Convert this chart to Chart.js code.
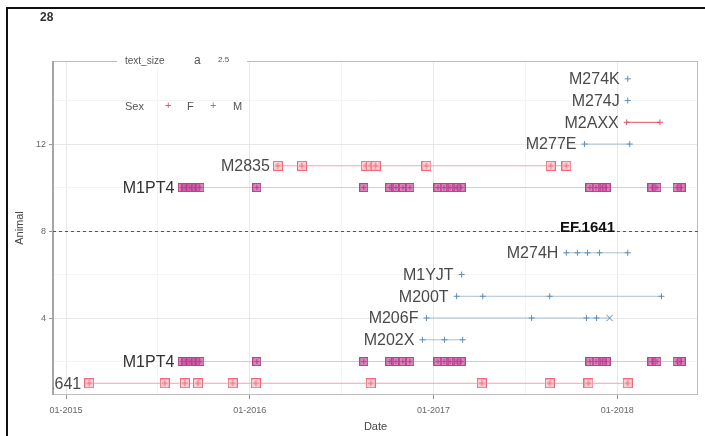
<!DOCTYPE html>
<html>
<head>
<meta charset="utf-8">
<script src="https://cdn.jsdelivr.net/npm/chart.js@4"></script>
<style>
  html, body { margin: 0; padding: 0; background: #fff; }
  #wrap { width: 705px; height: 436px; }
</style>
</head>
<body>
<div id="wrap"><canvas id="animalChart" width="705" height="436"></canvas></div>
<script>
// sightings per animal, dates
const dates641   = ['2015-02-16', '2015-07-16', '2015-08-25', '2015-09-20', '2015-11-28', '2016-01-13',
                    '2016-08-29', '2017-04-07', '2017-08-20', '2017-11-05', '2018-01-22'];
const datesM1PT4 = ['2015-08-20', '2015-08-27', '2015-09-06', '2015-09-16', '2015-09-24', '2016-01-15',
                    '2016-08-15', '2016-10-06', '2016-10-18', '2016-11-01', '2016-11-15',
                    '2017-01-10', '2017-01-22', '2017-02-03', '2017-02-15', '2017-02-25',
                    '2017-11-08', '2017-11-20', '2017-12-02', '2017-12-10',
                    '2018-03-11', '2018-03-21', '2018-04-30', '2018-05-08'];
const datesM202X = ['2016-12-10', '2017-01-23', '2017-02-28'];
const datesM206F = ['2016-12-18', '2017-07-15', '2017-11-01', '2017-11-21', '2017-12-17'];
const datesM200T = ['2017-02-16', '2017-04-09', '2017-08-20', '2018-03-30'];
const datesM1YJT = ['2017-02-26'];
const datesM274H = ['2017-09-22', '2017-10-14', '2017-11-03', '2017-11-27', '2018-01-22'];
const datesM2835 = ['2016-02-26', '2016-04-14', '2016-08-19', '2016-08-29', '2016-09-08', '2016-12-18',
                    '2017-08-22', '2017-09-22'];
const datesM277E = ['2017-10-28', '2018-01-26'];
const datesM2AXX = ['2018-01-20', '2018-03-27'];
const datesM274J = ['2018-01-22'];
const datesM274K = ['2018-01-22'];

const animals     = ['EF.1641', 'M1PT4', 'M202X', 'M206F', 'M200T', 'M1YJT', 'M274H', 'M1PT4', 'M2835', 'M277E', 'M2AXX', 'M274J', 'M274K'];
const animalRows  = [1, 2, 3, 4, 5, 6, 7, 10, 11, 12, 13, 14, 15];
const animalSex   = ['F', 'F', 'M', 'M', 'M', 'M', 'M', 'F', 'F', 'M', 'F', 'M', 'M'];
const animalDates = [dates641, datesM1PT4, datesM202X, datesM206F, datesM200T, datesM1YJT, datesM274H,
                     datesM1PT4, datesM2835, datesM277E, datesM2AXX, datesM274J, datesM274K];
const lastSeenX   = ['M206F'];   // last sighting drawn as an x

const dividerRow = 8;
const dividerLabel = 'EF.1641';
const dividerLabelDate = '2017-11-03';

const yearTicks = [2015, 2016, 2017, 2018];
const yearTickLabels = ['01-2015', '01-2016', '01-2017', '01-2018'];
const rowTicks = [4, 8, 12];
const sexLevels = ['F', 'M'];

const fontFamily = '"Liberation Sans", Arial, sans-serif';
Chart.defaults.font.family = fontFamily;

function toYear(s) {
    const [y, m, d] = s.split('-').map(Number);
    const start = Date.UTC(y, 0, 1);
    return y + (Date.UTC(y, m - 1, d) - start) / (Date.UTC(y + 1, 0, 1) - start);
}

// square with a plus inside, like the ggplot shape 12
function boxMarker(stroke, fill, size) {
    const c = document.createElement('canvas');
    c.width = size; c.height = size;
    const g = c.getContext('2d');
    g.fillStyle = fill;
    g.fillRect(0, 0, size, size);
    g.strokeStyle = stroke;
    g.lineWidth = 1;
    g.strokeRect(0.5, 0.5, size - 1, size - 1);
    g.beginPath();
    g.moveTo(size / 2, 2); g.lineTo(size / 2, size - 2);
    g.moveTo(2, size / 2); g.lineTo(size - 2, size / 2);
    g.stroke();
    return c;
}

const pinkBox = boxMarker('#ec6a7c', 'rgba(250,200,206,0.85)', 10);
const plumBox = boxMarker('#b8408f', 'rgba(204,80,160,0.7)', 9);

const femaleRed = '#e05068';
const maleBlue = '#5f8db3';

const styleByAnimal = {
    'EF.1641': { line: '#f2a3ad', marker: pinkBox },
    'M1PT4':   { line: '#d8c9d8', marker: plumBox },
    'M2835':   { line: '#f2a3ad', marker: pinkBox },
    'M2AXX':   { line: femaleRed, marker: 'cross', color: femaleRed }
};

const datasets = animals.map((name, i) => {
    const st = styleByAnimal[name] || { line: '#a8c0d4', marker: 'cross', color: maleBlue };
    const n = animalDates[i].length;
    return {
        label: name,
        data: animalDates[i].map(d => ({ x: toYear(d), y: animalRows[i] })),
        showLine: true,
        borderColor: st.line,
        borderWidth: 1,
        pointStyle: ctx => (lastSeenX.includes(name) && ctx.dataIndex === n - 1) ? 'crossRot' : st.marker,
        pointRadius: ctx => (lastSeenX.includes(name) && ctx.dataIndex === n - 1) ? 4.5 : 3,
        pointBorderColor: st.color || st.line,
        pointBackgroundColor: st.color || st.line,
        pointBorderWidth: 1
    };
});

const decor = {
    id: 'decor',
    beforeDatasetsDraw(chart) {
        const { ctx, chartArea: a, scales } = chart;
        ctx.save();
        // panel border
        ctx.strokeStyle = '#bdbdbd';
        ctx.lineWidth = 1;
        ctx.strokeRect(a.left + 0.5, a.top + 0.5, a.right - a.left - 1, a.bottom - a.top - 1);
        ctx.strokeStyle = '#a6a6a6';
        ctx.lineWidth = 2;
        ctx.beginPath(); ctx.moveTo(a.left, a.top); ctx.lineTo(a.left, a.bottom); ctx.stroke();
        // divider
        const yd = Math.round(scales.y.getPixelForValue(dividerRow)) + 0.5;
        ctx.strokeStyle = '#555';
        ctx.lineWidth = 1;
        ctx.setLineDash([3, 3]);
        ctx.beginPath(); ctx.moveTo(a.left, yd); ctx.lineTo(a.right, yd); ctx.stroke();
        ctx.restore();
    },
    afterDatasetsDraw(chart) {
        const { ctx, chartArea: a, scales } = chart;
        ctx.save();
        ctx.beginPath();
        ctx.rect(a.left, 0, chart.width, chart.height);
        ctx.clip();
        ctx.font = '16px ' + fontFamily;
        ctx.textAlign = 'right';
        ctx.textBaseline = 'middle';
        chart.data.datasets.forEach((ds, i) => {
            const pt = chart.getDatasetMeta(i).data[0];
            ctx.fillStyle = ds.label === 'M1PT4' ? '#333' : '#4a4a4a';
            ctx.fillText(ds.label, pt.x - 8, pt.y + 1);
        });
        ctx.restore();

        ctx.save();
        ctx.font = 'bold 15px ' + fontFamily;
        ctx.fillStyle = '#111';
        ctx.textAlign = 'center';
        ctx.textBaseline = 'alphabetic';
        ctx.fillText(dividerLabel, scales.x.getPixelForValue(toYear(dividerLabelDate)),
                     scales.y.getPixelForValue(dividerRow) + 1);
        ctx.restore();
    },
    afterDraw(chart) {
        const { ctx } = chart;
        ctx.save();
        // legend boxes sitting on the panel top
        ctx.fillStyle = '#fff';
        ctx.fillRect(117, 54, 130, 14);
        ctx.fillStyle = '#555';
        ctx.textBaseline = 'middle';
        ctx.textAlign = 'left';
        ctx.font = '10px ' + fontFamily;
        ctx.fillText('text_size', 125, 61);
        ctx.font = '12px ' + fontFamily;
        ctx.fillText('a', 194, 61);
        ctx.font = '8px ' + fontFamily;
        ctx.fillText('2.5', 218, 60);

        ctx.font = '11px ' + fontFamily;
        ctx.fillText('Sex', 125, 107);
        ctx.fillStyle = femaleRed;
        ctx.fillText('+', 165, 106);
        ctx.fillStyle = '#555';
        ctx.fillText(sexLevels[0], 187, 107);
        ctx.fillStyle = maleBlue;
        ctx.fillText('+', 210, 106);
        ctx.fillStyle = '#555';
        ctx.fillText(sexLevels[1], 233, 107);

        // facet number
        ctx.font = 'bold 12px ' + fontFamily;
        ctx.fillStyle = '#333';
        ctx.fillText('28', 40, 18);

        // outer frame
        ctx.fillStyle = '#111';
        ctx.fillRect(6, 7, 699, 2);
        ctx.fillRect(6, 7, 2, 429);
        ctx.restore();
    }
};

const ctx = document.getElementById('animalChart').getContext('2d');
new Chart(ctx, {
    type: 'scatter',
    data: { datasets: datasets },
    options: {
        responsive: false,
        animation: false,
        events: [],
        layout: { padding: { top: 61, right: 7, left: 0, bottom: 0 } },
        plugins: { legend: { display: false }, tooltip: { enabled: false } },
        scales: {
            x: {
                type: 'linear',
                min: 2014.929,
                max: 2018.44,
                afterFit: s => { s.height = 41; },
                afterBuildTicks: s => {
                    s.ticks = [];
                    yearTicks.forEach(v => {
                        s.ticks.push({ value: v });
                        if (v + 0.5 < 2018.44) s.ticks.push({ value: v + 0.5 });
                    });
                },
                ticks: {
                    padding: 6,
                    maxRotation: 0,
                    autoSkip: false,
                    color: '#666',
                    font: { size: 9 },
                    callback: v => {
                        const k = yearTicks.indexOf(v);
                        return k >= 0 ? yearTickLabels[k] : '';
                    }
                },
                grid: {
                    color: c => (c.tick && Number.isInteger(c.tick.value)) ? '#e8e8e8' : '#f4f4f4',
                    tickColor: c => (c.tick && Number.isInteger(c.tick.value)) ? '#999' : 'rgba(0,0,0,0)',
                    tickLength: 4
                },
                border: { display: false },
                title: { display: true, text: 'Date', color: '#444', font: { size: 11 }, padding: { top: 0, bottom: 2 } }
            },
            y: {
                type: 'linear',
                min: 0.46,
                max: 15.82,
                afterFit: s => { s.width = 53; },
                afterBuildTicks: s => {
                    s.ticks = [2, 4, 6, 8, 10, 12, 14].map(v => ({ value: v }));
                },
                ticks: {
                    padding: 3,
                    color: '#666',
                    font: { size: 9 },
                    callback: v => rowTicks.includes(v) ? String(v) : ''
                },
                grid: {
                    color: c => (c.tick && rowTicks.includes(c.tick.value)) ? '#e8e8e8' : '#f4f4f4',
                    tickColor: c => (c.tick && rowTicks.includes(c.tick.value)) ? '#999' : 'rgba(0,0,0,0)',
                    tickLength: 4
                },
                border: { display: false },
                title: { display: true, text: 'Animal', color: '#444', font: { size: 11 }, padding: { top: 13, bottom: 0 } }
            }
        }
    },
    plugins: [decor]
});
</script>
</body>
</html>
